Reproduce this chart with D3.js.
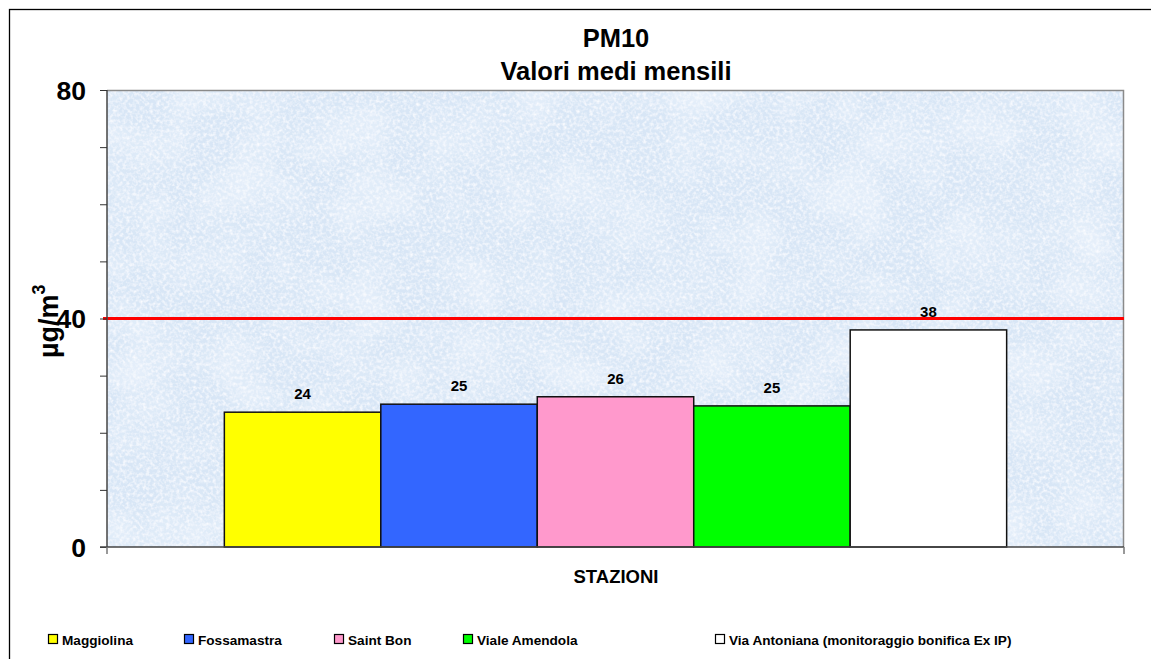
<!DOCTYPE html>
<html>
<head>
<meta charset="utf-8">
<script src="https://cdn.jsdelivr.net/npm/d3@7"></script>
<style>
  html, body { margin: 0; padding: 0; background: #fff; }
  svg { display: block; font-family: "Liberation Sans", Arial, sans-serif; }
</style>
</head>
<body>
<svg id="chart" width="1151" height="659"></svg>
<script>
const stations = ["Maggiolina", "Fossamastra", "Saint Bon", "Viale Amendola", "Via Antoniana (monitoraggio bonifica Ex IP)"];
const values = [23.6, 25.0, 26.3, 24.7, 38.0];
const labels = ["24", "25", "26", "25", "38"];
const colors = ["#FFFF00", "#3366FF", "#FF99CC", "#00FF00", "#FFFFFF"];
const yTickLabels = [0, 40, 80];
const yMinorTicks = [0, 10, 20, 30, 40, 50, 60, 70, 80];
const limitValue = 40;
const titleLines = ["PM10", "Valori medi mensili"];
const xTitle = "STAZIONI";
const legendX = [48, 184, 334, 463, 715];

const svg = d3.select("#chart");
const W = 1151, H = 659;
const plot = { left: 107, top: 90, right: 1124, bottom: 547 };

// outer chart border
svg.append("rect").attr("x", 9.5).attr("y", 9.5).attr("width", W).attr("height", H)
  .attr("fill", "#fff").attr("stroke", "#000").attr("stroke-width", 1.3);

// texture filter
const defs = svg.append("defs");
const f = defs.append("filter").attr("id", "tex").attr("x", 0).attr("y", 0).attr("width", 1).attr("height", 1);
f.append("feFlood").attr("flood-color", "#d8e6f6").attr("result", "base");
f.append("feTurbulence").attr("type", "fractalNoise").attr("baseFrequency", 0.018).attr("numOctaves", 2).attr("seed", 3).attr("result", "t1");
f.append("feColorMatrix").attr("in", "t1").attr("type", "matrix")
  .attr("values", "0 0 0 0 0.82  0 0 0 0 0.89  0 0 0 0 0.97  1.8 0 0 0 -0.75").attr("result", "blob");
f.append("feTurbulence").attr("type", "fractalNoise").attr("baseFrequency", 0.3).attr("numOctaves", 2).attr("seed", 7).attr("result", "t2");
f.append("feColorMatrix").attr("in", "t2").attr("type", "matrix")
  .attr("values", "0 0 0 0 0.96  0 0 0 0 0.97  0 0 0 0 1  2.0 0 0 0 -0.8").attr("result", "speck");
const m = f.append("feMerge");
m.append("feMergeNode").attr("in", "base");
m.append("feMergeNode").attr("in", "blob");
m.append("feMergeNode").attr("in", "speck");

svg.append("rect").attr("x", plot.left).attr("y", plot.top)
  .attr("width", plot.right - plot.left).attr("height", plot.bottom - plot.top)
  .attr("fill", "#d8e6f6").attr("filter", "url(#tex)");

// plot border (top/right)
svg.append("path")
  .attr("d", `M${plot.left},${plot.top + 0.5}H${plot.right - 0.5}V${plot.bottom}`)
  .attr("fill", "none").attr("stroke", "#8a8a8a").attr("stroke-width", 1.5);

// scales
const y = d3.scaleLinear().domain([0, 80]).range([plot.bottom, plot.top]);
const gapRatio = 0.75;
const slot = (plot.right - plot.left) / (stations.length + 2 * gapRatio);
const x = d3.scaleBand().domain(stations)
  .range([plot.left + gapRatio * slot, plot.right - gapRatio * slot]).paddingInner(0).paddingOuter(0);

// bars
svg.append("g").selectAll("rect").data(stations).join("rect")
  .attr("x", d => x(d))
  .attr("y", (d, i) => y(values[i]))
  .attr("width", x.bandwidth())
  .attr("height", (d, i) => y(0) - y(values[i]))
  .attr("fill", (d, i) => colors[i])
  .attr("stroke", "#111").attr("stroke-width", 1.5);

// data labels
svg.append("g").selectAll("text").data(stations).join("text")
  .attr("x", d => x(d) + x.bandwidth() / 2)
  .attr("y", (d, i) => y(values[i]) - 13)
  .attr("text-anchor", "middle")
  .attr("font-size", 15).attr("font-weight", "bold").attr("fill", "#000")
  .text((d, i) => labels[i]);

// limit line
svg.append("line")
  .attr("x1", plot.left - 4).attr("x2", plot.right)
  .attr("y1", y(limitValue)).attr("y2", y(limitValue))
  .attr("stroke", "#FF0000").attr("stroke-width", 3);

// y axis
const yAxis = d3.axisLeft(y).tickValues(yMinorTicks).tickSize(7).tickFormat("");
const gy = svg.append("g").attr("transform", `translate(${plot.left},0)`).call(yAxis);
gy.select(".domain").attr("stroke", "#444").attr("stroke-width", 1.5).attr("d", `M0,${plot.top}V${plot.bottom}`);
gy.selectAll(".tick line").attr("stroke", "#333").attr("stroke-width", 1);
svg.append("g").selectAll("text").data(yTickLabels).join("text")
  .attr("x", 86).attr("y", d => y(d) + 9.5)
  .attr("text-anchor", "end")
  .attr("font-size", 26.5).attr("font-weight", "bold").attr("fill", "#000")
  .text(d => d);

// x axis
svg.append("line").attr("x1", plot.left - 7).attr("x2", plot.right)
  .attr("y1", plot.bottom).attr("y2", plot.bottom)
  .attr("stroke", "#444").attr("stroke-width", 1.5);
svg.append("g").selectAll("line").data([plot.left, plot.right]).join("line")
  .attr("x1", d => d).attr("x2", d => d)
  .attr("y1", plot.bottom).attr("y2", plot.bottom + 7)
  .attr("stroke", "#777").attr("stroke-width", 1.5);

// titles
svg.append("g").selectAll("text").data(titleLines).join("text")
  .attr("x", 616).attr("y", (d, i) => 47 + i * 33)
  .attr("text-anchor", "middle")
  .attr("font-size", 25.5).attr("font-weight", "bold").attr("fill", "#000")
  .text(d => d);

svg.append("text").attr("x", 616).attr("y", 582.5)
  .attr("text-anchor", "middle")
  .attr("font-size", 18.5).attr("font-weight", "bold").attr("fill", "#000")
  .text(xTitle);

// y title
const yt = svg.append("text")
  .attr("transform", "translate(58,358) rotate(-90)")
  .attr("font-size", 27).attr("font-weight", "bold").attr("fill", "#000");
yt.append("tspan").text("µg/m");
yt.append("tspan").attr("font-size", 18).attr("dy", -13).text("3");

// legend
const lg = svg.append("g").selectAll("g").data(stations).join("g")
  .attr("transform", (d, i) => `translate(${legendX[i]},634)`);
lg.append("rect").attr("x", 0.5).attr("y", 0.5).attr("width", 9).attr("height", 9)
  .attr("fill", (d, i) => colors[i]).attr("stroke", "#000").attr("stroke-width", 1.2);
lg.append("text").attr("x", 14).attr("y", 10.5)
  .attr("font-size", 13.6).attr("font-weight", "bold").attr("fill", "#000")
  .text(d => d);
</script>
</body>
</html>
